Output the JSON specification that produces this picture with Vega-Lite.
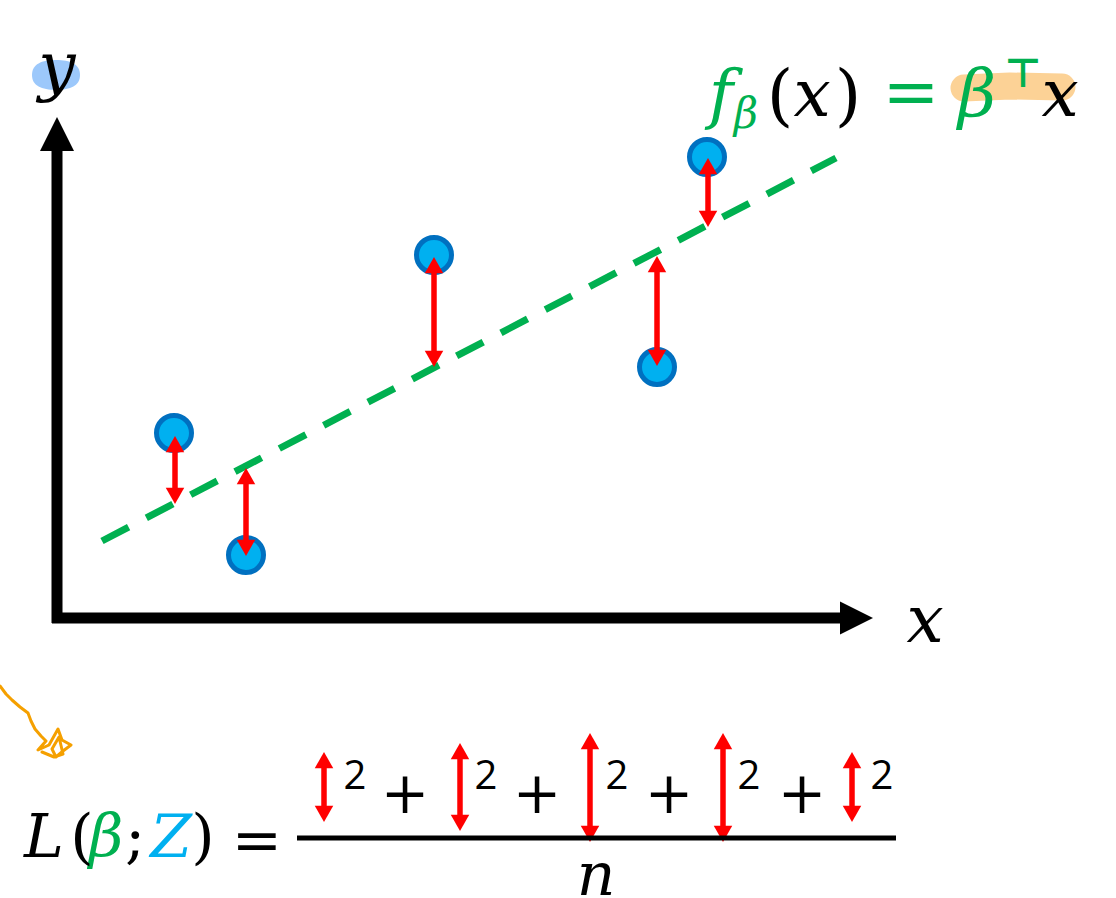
{
  "$schema": "https://vega.github.io/schema/vega-lite/v6.json",
  "width": 1116,
  "height": 898,
  "padding": 0,
  "autosize": {"type": "none"},
  "config": {"view": {"stroke": null}},
  "background": "white",
  "layer": [
    {
      "data": {"values": [{"x": 56, "y": 75}]},
      "mark": {"type": "point", "filled": true, "opacity": 1, "color": "#9cc8fb", "size": 2304,
        "shape": "M-1,0C-1,-0.45,-0.6,-0.62,0,-0.62C0.6,-0.62,1,-0.45,1,0C1,0.45,0.6,0.62,0,0.62C-0.6,0.62,-1,0.45,-1,0Z"},
      "encoding": {
        "x": {"field": "x", "type": "quantitative", "scale": {"domain": [0, 1116], "nice": false, "zero": false}, "axis": null},
        "y": {"field": "y", "type": "quantitative", "scale": {"domain": [0, 898], "nice": false, "zero": false, "reverse": true}, "axis": null}
      }
    },
    {
      "data": {"values": [{"i": 0, "x": 964, "y": 88}, {"i": 1, "x": 1010, "y": 86}, {"i": 2, "x": 1062, "y": 87}]},
      "mark": {"type": "line", "color": "#fcd296", "strokeWidth": 27, "strokeCap": "round", "strokeJoin": "round"},
      "encoding": {
        "x": {"field": "x", "type": "quantitative"},
        "y": {"field": "y", "type": "quantitative"},
        "order": {"field": "i"}
      }
    },
    {
      "data": {"values": [
        {"i": 0, "x": 0, "y": 686}, {"i": 1, "x": 6, "y": 694}, {"i": 2, "x": 12, "y": 700}, {"i": 3, "x": 20, "y": 707},
        {"i": 4, "x": 28, "y": 713}, {"i": 5, "x": 31, "y": 721}, {"i": 6, "x": 35, "y": 729}, {"i": 7, "x": 41, "y": 736},
        {"i": 8, "x": 46, "y": 741}, {"i": 9, "x": 38, "y": 750}, {"i": 10, "x": 49, "y": 745}, {"i": 11, "x": 58, "y": 729},
        {"i": 12, "x": 62, "y": 740}, {"i": 13, "x": 71, "y": 745}, {"i": 14, "x": 63, "y": 751}, {"i": 15, "x": 56, "y": 757},
        {"i": 16, "x": 52, "y": 749}, {"i": 17, "x": 59, "y": 737}, {"i": 18, "x": 63, "y": 754}, {"i": 19, "x": 54, "y": 757},
        {"i": 20, "x": 42, "y": 752}
      ]},
      "mark": {"type": "line", "color": "#f5a000", "strokeWidth": 3, "strokeCap": "round", "strokeJoin": "round"},
      "encoding": {
        "x": {"field": "x", "type": "quantitative"},
        "y": {"field": "y", "type": "quantitative"},
        "order": {"field": "i"}
      }
    },
    {
      "data": {"values": [{"x": 57, "y": 623, "x2": 57, "y2": 148}, {"x": 52, "y": 618, "x2": 842, "y2": 618}]},
      "mark": {"type": "rule", "color": "black", "strokeWidth": 11},
      "encoding": {
        "x": {"field": "x", "type": "quantitative"},
        "y": {"field": "y", "type": "quantitative"},
        "x2": {"field": "x2"},
        "y2": {"field": "y2"}
      }
    },
    {
      "data": {"values": [{"x": 57, "y": 117}]},
      "mark": {"type": "point", "filled": true, "opacity": 1, "color": "black", "size": 1156, "shape": "M0,0L1,2L-1,2Z"},
      "encoding": {
        "x": {"field": "x", "type": "quantitative"},
        "y": {"field": "y", "type": "quantitative"}
      }
    },
    {
      "data": {"values": [{"x": 873, "y": 618}]},
      "mark": {"type": "point", "filled": true, "opacity": 1, "color": "black", "size": 1089, "shape": "M0,0L-2,-1L-2,1Z"},
      "encoding": {
        "x": {"field": "x", "type": "quantitative"},
        "y": {"field": "y", "type": "quantitative"}
      }
    },
    {
      "data": {"values": [{"x": 102, "y": 541}, {"x": 836, "y": 158}]},
      "mark": {"type": "line", "color": "#00b050", "strokeWidth": 7, "strokeDash": [30, 20], "strokeCap": "butt"},
      "encoding": {
        "x": {"field": "x", "type": "quantitative"},
        "y": {"field": "y", "type": "quantitative"}
      }
    },
    {
      "data": {"values": [{"x": 174, "y": 433}, {"x": 246, "y": 555}, {"x": 434, "y": 255}, {"x": 657, "y": 367}, {"x": 707, "y": 157}]},
      "mark": {"type": "point", "shape": "circle", "filled": true, "opacity": 1, "fill": "#00b0f0", "stroke": "#0070c0", "strokeWidth": 5, "size": 1225},
      "encoding": {
        "x": {"field": "x", "type": "quantitative"},
        "y": {"field": "y", "type": "quantitative"}
      }
    },
    {
      "data": {"name": "arrows", "values": [
        {"x": 175, "top": 436, "bottom": 504}, {"x": 246, "top": 468, "bottom": 556},
        {"x": 434, "top": 257, "bottom": 367}, {"x": 657, "top": 256, "bottom": 366},
        {"x": 708, "top": 158, "bottom": 227},
        {"x": 324, "top": 752, "bottom": 822}, {"x": 460, "top": 743, "bottom": 831},
        {"x": 590, "top": 733, "bottom": 842}, {"x": 723, "top": 733, "bottom": 842},
        {"x": 852, "top": 752, "bottom": 822}
      ]},
      "layer": [
        {
          "mark": {"type": "rule", "color": "#ff0000", "strokeWidth": 5.5, "yOffset": 12, "y2Offset": -12},
          "encoding": {
            "x": {"field": "x", "type": "quantitative"},
            "y": {"field": "top", "type": "quantitative"},
            "y2": {"field": "bottom"}
          }
        },
        {
          "mark": {"type": "point", "filled": true, "opacity": 1, "color": "#ff0000", "size": 342, "shape": "M0,0L1,1.75L-1,1.75Z"},
          "encoding": {
            "x": {"field": "x", "type": "quantitative"},
            "y": {"field": "top", "type": "quantitative"}
          }
        },
        {
          "mark": {"type": "point", "filled": true, "opacity": 1, "color": "#ff0000", "size": 342, "shape": "M0,0L1,-1.75L-1,-1.75Z"},
          "encoding": {
            "x": {"field": "x", "type": "quantitative"},
            "y": {"field": "bottom", "type": "quantitative"}
          }
        }
      ]
    },
    {
      "data": {"values": [{"x": 297, "y": 838, "x2": 896}]},
      "mark": {"type": "rule", "color": "black", "strokeWidth": 5},
      "encoding": {
        "x": {"field": "x", "type": "quantitative"},
        "y": {"field": "y", "type": "quantitative"},
        "x2": {"field": "x2"}
      }
    },
    {
      "data": {"values": [
        {"t": "y", "x": 57, "y": 88, "s": "itT", "c": "k"},
        {"t": "x", "x": 925, "y": 642, "s": "itT", "c": "k"},
        {"t": "f", "x": 721, "y": 116, "s": "itT", "c": "g"},
        {"t": "β", "x": 746, "y": 128, "s": "sub", "c": "g"},
        {"t": "(", "x": 780, "y": 118, "s": "upT", "c": "k"},
        {"t": "x", "x": 812, "y": 116, "s": "itT", "c": "k"},
        {"t": ")", "x": 848, "y": 118, "s": "upT", "c": "k"},
        {"t": "=", "x": 911, "y": 115, "s": "upT", "c": "g"},
        {"t": "β", "x": 977, "y": 116, "s": "itT", "c": "g"},
        {"t": "⊤", "x": 1023, "y": 87, "s": "sans", "c": "g"},
        {"t": "x", "x": 1060, "y": 116, "s": "itT", "c": "k"},
        {"t": "L", "x": 44, "y": 857, "s": "it", "c": "k"},
        {"t": "(", "x": 82, "y": 857, "s": "up", "c": "k"},
        {"t": "β", "x": 106, "y": 857, "s": "it", "c": "g"},
        {"t": ";", "x": 135, "y": 857, "s": "up", "c": "k"},
        {"t": "Z", "x": 171, "y": 857, "s": "it", "c": "b"},
        {"t": ")", "x": 203, "y": 857, "s": "up", "c": "k"},
        {"t": "=", "x": 257, "y": 860, "s": "up", "c": "k"},
        {"t": "n", "x": 596, "y": 895, "s": "it", "c": "k"},
        {"t": "2", "x": 355, "y": 789, "s": "sup", "c": "k"},
        {"t": "2", "x": 486, "y": 789, "s": "sup", "c": "k"},
        {"t": "2", "x": 617, "y": 789, "s": "sup", "c": "k"},
        {"t": "2", "x": 749, "y": 789, "s": "sup", "c": "k"},
        {"t": "2", "x": 882, "y": 789, "s": "sup", "c": "k"},
        {"t": "+", "x": 405, "y": 813, "s": "plus", "c": "k"},
        {"t": "+", "x": 537, "y": 813, "s": "plus", "c": "k"},
        {"t": "+", "x": 669, "y": 813, "s": "plus", "c": "k"},
        {"t": "+", "x": 802, "y": 813, "s": "plus", "c": "k"}
      ]},
      "encoding": {
        "x": {"field": "x", "type": "quantitative"},
        "y": {"field": "y", "type": "quantitative"},
        "text": {"field": "t"},
        "color": {"field": "c", "type": "nominal", "scale": {"domain": ["k", "g", "b"], "range": ["#000000", "#00b050", "#00b0f0"]}, "legend": null}
      },
      "layer": [
        {"transform": [{"filter": "datum.s === 'it'"}],
         "mark": {"type": "text", "font": "DejaVu Serif", "fontStyle": "italic", "fontSize": 60, "align": "center", "baseline": "alphabetic"}},
        {"transform": [{"filter": "datum.s === 'itT'"}],
         "mark": {"type": "text", "font": "DejaVu Serif", "fontStyle": "italic", "fontSize": 66, "align": "center", "baseline": "alphabetic"}},
        {"transform": [{"filter": "datum.s === 'up'"}],
         "mark": {"type": "text", "font": "DejaVu Serif", "fontSize": 60, "align": "center", "baseline": "alphabetic"}},
        {"transform": [{"filter": "datum.s === 'upT'"}],
         "mark": {"type": "text", "font": "DejaVu Serif", "fontSize": 68, "align": "center", "baseline": "alphabetic"}},
        {"transform": [{"filter": "datum.s === 'sub'"}],
         "mark": {"type": "text", "font": "DejaVu Serif", "fontStyle": "italic", "fontSize": 42, "align": "center", "baseline": "alphabetic"}},
        {"transform": [{"filter": "datum.s === 'sans'"}],
         "mark": {"type": "text", "font": "DejaVu Sans", "fontWeight": "bold", "fontSize": 40, "align": "center", "baseline": "alphabetic"}},
        {"transform": [{"filter": "datum.s === 'sup'"}],
         "mark": {"type": "text", "font": "Open Sans", "fontSize": 40, "align": "center", "baseline": "alphabetic"}},
        {"transform": [{"filter": "datum.s === 'plus'"}],
         "mark": {"type": "text", "font": "DejaVu Serif", "fontSize": 58, "align": "center", "baseline": "alphabetic"}}
      ]
    }
  ]
}
